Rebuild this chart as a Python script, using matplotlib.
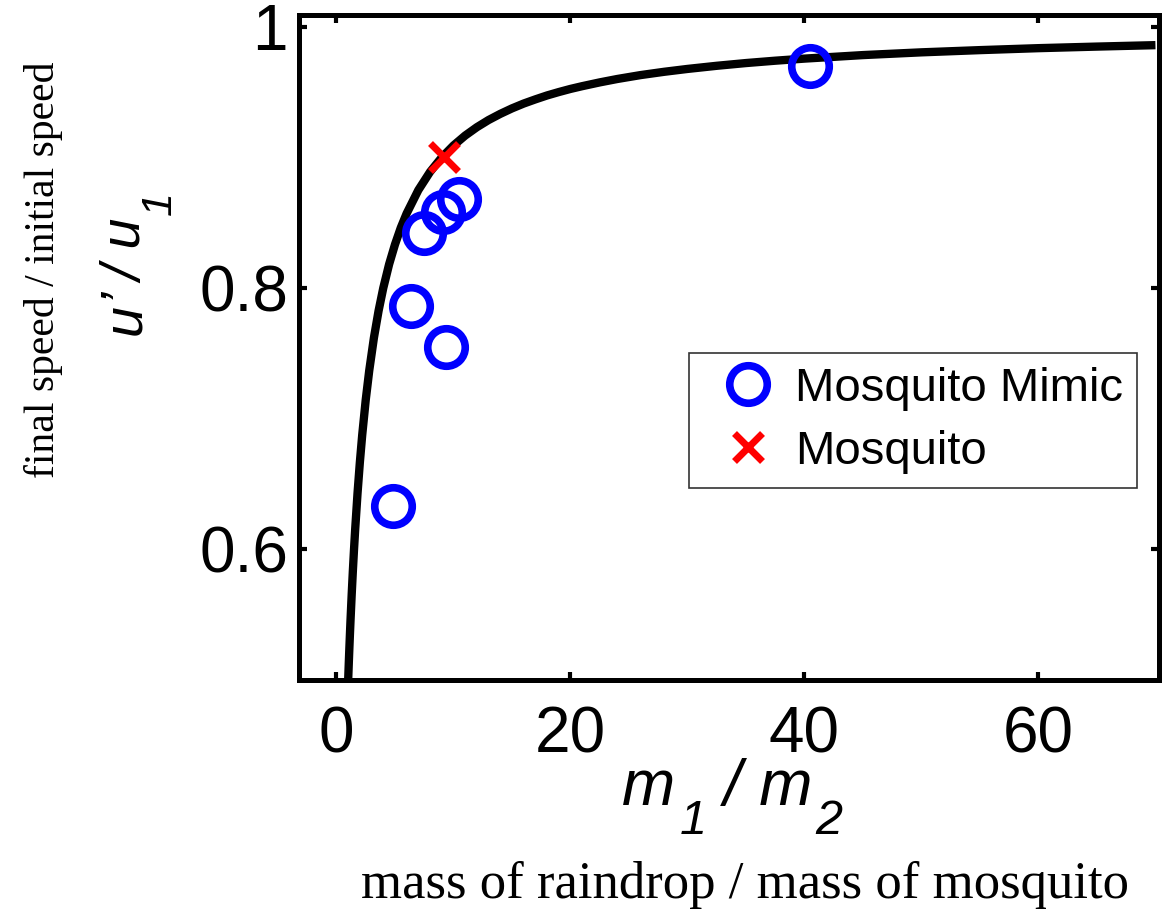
import matplotlib
matplotlib.use('Agg')
import matplotlib.pyplot as plt
from matplotlib.lines import Line2D

plt.rcParams['font.family'] = 'Liberation Sans'

# theory curve: u'/u1 vs m1/m2
curve_x = [1.0, 1.05, 1.1, 1.15, 1.2, 1.3, 1.4, 1.5, 1.6, 1.8, 2.0, 2.2, 2.5, 2.8, 3.2,
           3.6, 4.0, 4.5, 5.0, 5.5, 6.0, 7.0, 8.0, 9.0, 10, 11, 12, 13, 14, 15, 16, 17,
           18, 19, 20, 21, 22.5, 24, 26, 28, 30, 32.5, 35, 37.5, 40, 45, 50, 55, 60,
           65, 70]
curve_y = [0.5000, 0.5122, 0.5238, 0.5349, 0.5455, 0.5652, 0.5833, 0.6000, 0.6154,
           0.6429, 0.6667, 0.6875, 0.7143, 0.7368, 0.7619, 0.7826, 0.8000, 0.8182,
           0.8333, 0.8462, 0.8571, 0.8750, 0.8889, 0.9000, 0.9091, 0.9167, 0.9231,
           0.9286, 0.9333, 0.9375, 0.9412, 0.9444, 0.9474, 0.9500, 0.9524, 0.9545,
           0.9574, 0.9600, 0.9630, 0.9655, 0.9677, 0.9701, 0.9722, 0.9740, 0.9756,
           0.9783, 0.9804, 0.9821, 0.9836, 0.9848, 0.9859]

# mosquito mimic measurements
mimic_x = [4.8, 6.4, 7.5, 9.1, 10.5, 9.4, 40.5]
mimic_y = [0.633, 0.786, 0.842, 0.858, 0.868, 0.755, 0.970]

# real mosquito
mosq_x = [9.2]
mosq_y = [0.900]

xticks = [0, 20, 40, 60]
yticks = [0.6, 0.8, 1.0]
ytick_labels = ['0.6', '0.8', '1']

BLUE = '#0000ff'
RED = '#ff0000'

fig = plt.figure(figsize=(11.69, 9.13), dpi=100)
ax = fig.add_axes([0.2558, 0.2552, 0.7356, 0.7284])

ax.plot(curve_x, curve_y, color='black', lw=6, solid_capstyle='butt',
        solid_joinstyle='round')
ax.plot(mimic_x, mimic_y, 'o', ms=27, mfc='none', mec=BLUE, mew=5.5)
ax.plot(mosq_x, mosq_y, 'x', ms=20, mec=RED, mew=5)

ax.set_xlim(-3.2, 70.3)
ax.set_ylim(0.5, 1.009)
ax.set_xticks(xticks)
ax.set_yticks(yticks)
ax.set_yticklabels(ytick_labels)
ax.tick_params(direction='in', length=6, width=3, labelsize=46,
               top=True, right=True)
ax.tick_params(axis='x', pad=18)
ax.tick_params(axis='y', pad=8)
for s in ax.spines.values():
    s.set_linewidth(3.6)

# x label  m1 / m2  built from pieces so the subscripts sit low like the original
kw = dict(style='italic', textcoords='offset points', annotation_clip=False)
t0 = fig.text(0.532, 0.1045, 'm', fontsize=46, style='italic', ha='left', va='bottom')
t1 = ax.annotate('1', xy=(1, 0), xycoords=t0, xytext=(3, -19), fontsize=35,
                 ha='left', va='bottom', **kw)
t2 = ax.annotate(' / m', xy=(1, 0), xycoords=(t1, t0), xytext=(0, 0), fontsize=46,
                 ha='left', va='bottom', **kw)
ax.annotate('2', xy=(1, 0), xycoords=t2, xytext=(2, -19), fontsize=35,
            ha='left', va='bottom', **kw)

# y label  u' / u1  (rotated)
s0 = fig.text(0.130, 0.633, 'u', fontsize=40, style='italic', rotation=90,
              ha='right', va='bottom')
s1 = ax.annotate('\u2019 / u', xy=(1, 1), xycoords=s0, xytext=(0, 0), fontsize=40,
                 rotation=90, ha='right', va='bottom', **kw)
ax.annotate('1', xy=(1, 1), xycoords=s1, xytext=(20, 2), fontsize=31,
            rotation=90, ha='right', va='bottom', **kw)

fig.text(0.037, 0.705, 'final speed / initial speed', fontsize=30,
         family='Liberation Serif', ha='center', va='center', rotation=90)
fig.text(0.637, 0.031, 'mass of raindrop / mass of mosquito', fontsize=38,
         family='Liberation Serif', ha='center', va='center')

handles = [Line2D([], [], ls='none', marker='o', ms=27, mfc='none', mec=BLUE, mew=5.5),
           Line2D([], [], ls='none', marker='x', ms=20, mec=RED, mew=5)]
leg = ax.legend(handles, ['Mosquito Mimic', 'Mosquito'], fontsize=34,
                loc='upper left', bbox_to_anchor=(0.454, 0.492),
                frameon=True, fancybox=False, edgecolor='black',
                handletextpad=0.06, labelspacing=0.4, borderpad=0.3,
                handlelength=1.88, borderaxespad=0)
leg.get_frame().set_linewidth(1.2)

fig.savefig('out.png', dpi=100, facecolor='white')
